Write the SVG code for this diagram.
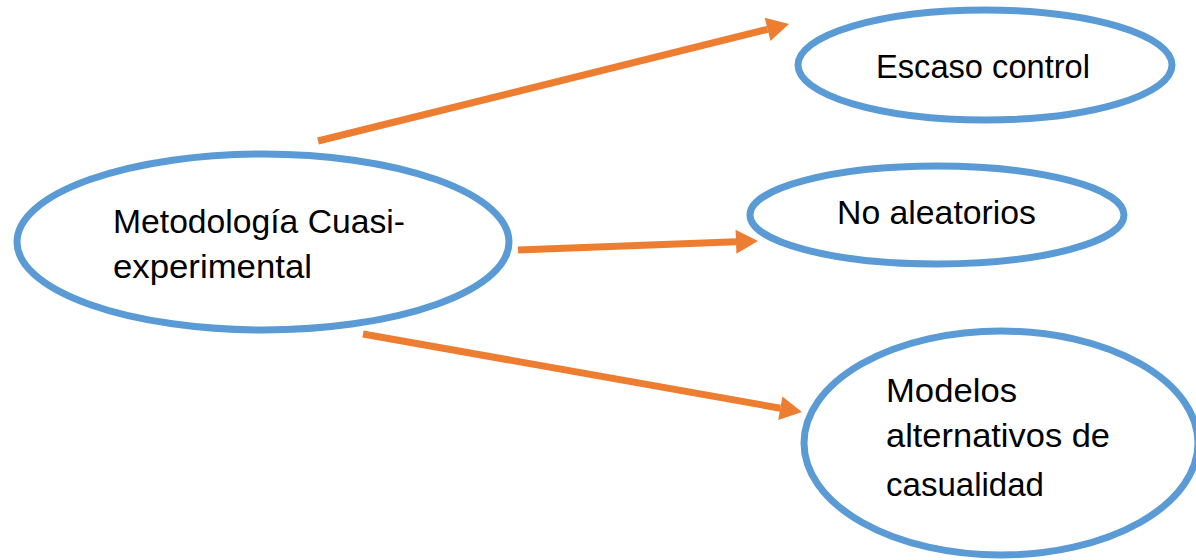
<svg xmlns="http://www.w3.org/2000/svg" width="1196" height="560" viewBox="0 0 1196 560">
<style>
.node{fill:#FFFFFF;stroke:#5B9BD5;stroke-width:7}
.lbl{font-family:"Liberation Sans","Open Sans",sans-serif;font-size:33px;fill:#000000}
.conn{stroke:#ED7D31;stroke-width:7;fill:none}
</style>
<defs>
<marker id="ah" markerUnits="userSpaceOnUse" viewBox="0 -15 30 30" markerWidth="30" markerHeight="30" refX="0" refY="0" orient="auto" overflow="visible">
<path d="M0,-12 L22,0 L0,12 z" fill="#ED7D31"/>
</marker>
</defs>
<rect width="1196" height="560" fill="#FFFFFF"/>
<g id="connectors">
<line class="conn" x1="318" y1="141" x2="767.6" y2="29.3" marker-end="url(#ah)"/>
<line class="conn" x1="518" y1="250" x2="736" y2="241.8" marker-end="url(#ah)"/>
<line class="conn" x1="363" y1="334" x2="780.3" y2="408.2" marker-end="url(#ah)"/>
</g>
<g id="node-main">
<ellipse class="node" cx="263" cy="242" rx="246" ry="88"/>
<text class="lbl" x="113" y="233" textLength="292" lengthAdjust="spacingAndGlyphs">Metodología Cuasi-</text>
<text class="lbl" x="113" y="278" textLength="199" lengthAdjust="spacingAndGlyphs">experimental</text>
</g>
<g id="node-escaso">
<ellipse class="node" cx="985" cy="65" rx="187" ry="55"/>
<text class="lbl" x="876" y="78" textLength="214" lengthAdjust="spacingAndGlyphs">Escaso control</text>
</g>
<g id="node-noaleatorios">
<ellipse class="node" cx="937" cy="215" rx="187" ry="49"/>
<text class="lbl" x="837" y="224" textLength="199" lengthAdjust="spacingAndGlyphs">No aleatorios</text>
</g>
<g id="node-modelos">
<ellipse class="node" cx="1001" cy="443" rx="197" ry="112"/>
<text class="lbl" x="886" y="402" textLength="131" lengthAdjust="spacingAndGlyphs">Modelos</text>
<text class="lbl" x="886" y="447" textLength="224" lengthAdjust="spacingAndGlyphs">alternativos de</text>
<text class="lbl" x="886" y="496" textLength="158" lengthAdjust="spacingAndGlyphs">casualidad</text>
</g>
</svg>
